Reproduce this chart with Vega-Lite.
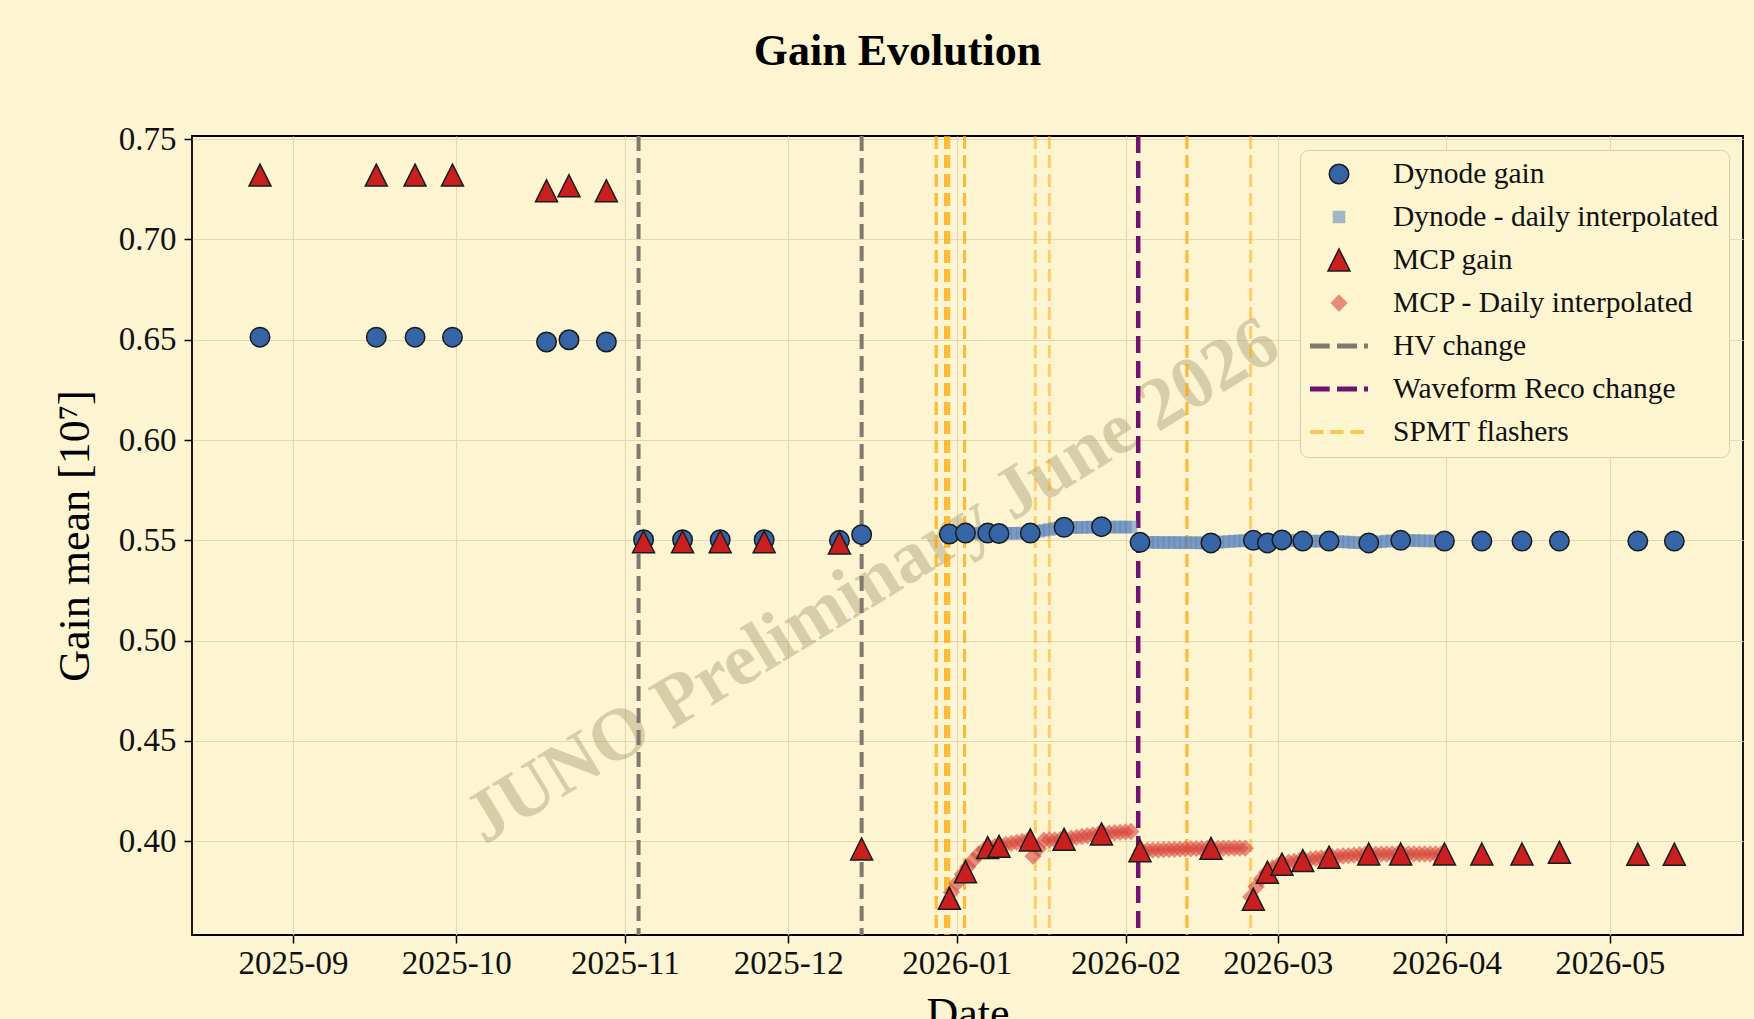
{
  "$schema": "https://vega.github.io/schema/vega-lite/v6.json",
  "width": 1551,
  "height": 799,
  "autosize": {"type": "none"},
  "padding": {"left": 192, "top": 136, "right": 11, "bottom": 84},
  "background": "#fdf5d2",
  "title": {"text": "Gain Evolution", "font": "Liberation Serif", "fontSize": 44, "fontWeight": "bold", "color": "#000", "anchor": "middle", "dx": -70, "offset": 49},
  "config": {
    "view": {"stroke": "#000", "strokeWidth": 1.8, "fill": "#fdf5d2"},
    "font": "Liberation Serif",
    "axis": {"labelFont": "Liberation Serif", "titleFont": "Liberation Serif", "labelFontSize": 33, "titleFontSize": 44, "titleFontWeight": "normal", "labelColor": "#111", "titleColor": "#000", "tickColor": "#000", "tickSize": 8, "tickWidth": 1.5, "domain": false, "grid": true, "gridColor": "#e3d9b3", "gridWidth": 1.2}
  },
  "datasets": {
    "wm": [{"date": "2025-12-16T12:00", "gain": 0.5295, "label": "JUNO Preliminary June 2026"}],
    "events": [
      {"date": "2025-11-03T12:00", "event": "HV change"},
      {"date": "2025-12-14T12:00", "event": "HV change"},
      {"date": "2026-02-03T08:00", "event": "Waveform Reco change"},
      {"date": "2025-12-28T05:00", "event": "SPMT flashers"},
      {"date": "2025-12-28T05:00", "event": "SPMT flashers"},
      {"date": "2025-12-29T22:00", "event": "SPMT flashers"},
      {"date": "2025-12-29T22:00", "event": "SPMT flashers"},
      {"date": "2025-12-30T12:00", "event": "SPMT flashers"},
      {"date": "2025-12-30T12:00", "event": "SPMT flashers"},
      {"date": "2026-01-02T10:00", "event": "SPMT flashers"},
      {"date": "2026-01-02T10:00", "event": "SPMT flashers"},
      {"date": "2026-01-15T10:00", "event": "SPMT flashers"},
      {"date": "2026-01-18T00:00", "event": "SPMT flashers"},
      {"date": "2026-02-12T07:00", "event": "SPMT flashers"},
      {"date": "2026-02-12T07:00", "event": "SPMT flashers"},
      {"date": "2026-02-24T00:00", "event": "SPMT flashers"}
    ],
    "points": [
      {"date": "2025-12-31T00:00", "gain": 0.5531, "series": "Dynode - daily interpolated"},
      {"date": "2026-01-01T00:00", "gain": 0.5532, "series": "Dynode - daily interpolated"},
      {"date": "2026-01-02T00:00", "gain": 0.5533, "series": "Dynode - daily interpolated"},
      {"date": "2026-01-03T00:00", "gain": 0.5534, "series": "Dynode - daily interpolated"},
      {"date": "2026-01-04T00:00", "gain": 0.5535, "series": "Dynode - daily interpolated"},
      {"date": "2026-01-05T00:00", "gain": 0.5536, "series": "Dynode - daily interpolated"},
      {"date": "2026-01-06T00:00", "gain": 0.5536, "series": "Dynode - daily interpolated"},
      {"date": "2026-01-07T00:00", "gain": 0.5535, "series": "Dynode - daily interpolated"},
      {"date": "2026-01-08T00:00", "gain": 0.5534, "series": "Dynode - daily interpolated"},
      {"date": "2026-01-09T00:00", "gain": 0.5534, "series": "Dynode - daily interpolated"},
      {"date": "2026-01-10T00:00", "gain": 0.5535, "series": "Dynode - daily interpolated"},
      {"date": "2026-01-11T00:00", "gain": 0.5535, "series": "Dynode - daily interpolated"},
      {"date": "2026-01-12T00:00", "gain": 0.5535, "series": "Dynode - daily interpolated"},
      {"date": "2026-01-13T00:00", "gain": 0.5536, "series": "Dynode - daily interpolated"},
      {"date": "2026-01-14T00:00", "gain": 0.5536, "series": "Dynode - daily interpolated"},
      {"date": "2026-01-15T00:00", "gain": 0.5541, "series": "Dynode - daily interpolated"},
      {"date": "2026-01-16T00:00", "gain": 0.5545, "series": "Dynode - daily interpolated"},
      {"date": "2026-01-17T00:00", "gain": 0.555, "series": "Dynode - daily interpolated"},
      {"date": "2026-01-18T00:00", "gain": 0.5554, "series": "Dynode - daily interpolated"},
      {"date": "2026-01-19T00:00", "gain": 0.5559, "series": "Dynode - daily interpolated"},
      {"date": "2026-01-20T00:00", "gain": 0.5563, "series": "Dynode - daily interpolated"},
      {"date": "2026-01-21T00:00", "gain": 0.5563, "series": "Dynode - daily interpolated"},
      {"date": "2026-01-22T00:00", "gain": 0.5564, "series": "Dynode - daily interpolated"},
      {"date": "2026-01-23T00:00", "gain": 0.5564, "series": "Dynode - daily interpolated"},
      {"date": "2026-01-24T00:00", "gain": 0.5565, "series": "Dynode - daily interpolated"},
      {"date": "2026-01-25T00:00", "gain": 0.5565, "series": "Dynode - daily interpolated"},
      {"date": "2026-01-26T00:00", "gain": 0.5566, "series": "Dynode - daily interpolated"},
      {"date": "2026-01-27T00:00", "gain": 0.5566, "series": "Dynode - daily interpolated"},
      {"date": "2026-01-28T00:00", "gain": 0.5566, "series": "Dynode - daily interpolated"},
      {"date": "2026-01-29T00:00", "gain": 0.5566, "series": "Dynode - daily interpolated"},
      {"date": "2026-01-30T00:00", "gain": 0.5566, "series": "Dynode - daily interpolated"},
      {"date": "2026-01-31T00:00", "gain": 0.5566, "series": "Dynode - daily interpolated"},
      {"date": "2026-02-01T00:00", "gain": 0.5566, "series": "Dynode - daily interpolated"},
      {"date": "2026-02-02T00:00", "gain": 0.5566, "series": "Dynode - daily interpolated"},
      {"date": "2026-02-04T00:00", "gain": 0.549, "series": "Dynode - daily interpolated"},
      {"date": "2026-02-05T00:00", "gain": 0.549, "series": "Dynode - daily interpolated"},
      {"date": "2026-02-06T00:00", "gain": 0.549, "series": "Dynode - daily interpolated"},
      {"date": "2026-02-07T00:00", "gain": 0.5489, "series": "Dynode - daily interpolated"},
      {"date": "2026-02-08T00:00", "gain": 0.5489, "series": "Dynode - daily interpolated"},
      {"date": "2026-02-09T00:00", "gain": 0.5489, "series": "Dynode - daily interpolated"},
      {"date": "2026-02-10T00:00", "gain": 0.5489, "series": "Dynode - daily interpolated"},
      {"date": "2026-02-11T00:00", "gain": 0.5488, "series": "Dynode - daily interpolated"},
      {"date": "2026-02-12T00:00", "gain": 0.5488, "series": "Dynode - daily interpolated"},
      {"date": "2026-02-13T00:00", "gain": 0.5488, "series": "Dynode - daily interpolated"},
      {"date": "2026-02-14T00:00", "gain": 0.5488, "series": "Dynode - daily interpolated"},
      {"date": "2026-02-15T00:00", "gain": 0.5487, "series": "Dynode - daily interpolated"},
      {"date": "2026-02-16T00:00", "gain": 0.5487, "series": "Dynode - daily interpolated"},
      {"date": "2026-02-17T00:00", "gain": 0.5489, "series": "Dynode - daily interpolated"},
      {"date": "2026-02-18T00:00", "gain": 0.549, "series": "Dynode - daily interpolated"},
      {"date": "2026-02-19T00:00", "gain": 0.5492, "series": "Dynode - daily interpolated"},
      {"date": "2026-02-20T00:00", "gain": 0.5494, "series": "Dynode - daily interpolated"},
      {"date": "2026-02-21T00:00", "gain": 0.5496, "series": "Dynode - daily interpolated"},
      {"date": "2026-02-22T00:00", "gain": 0.5497, "series": "Dynode - daily interpolated"},
      {"date": "2026-02-23T00:00", "gain": 0.5499, "series": "Dynode - daily interpolated"},
      {"date": "2026-02-24T00:00", "gain": 0.55, "series": "Dynode - daily interpolated"},
      {"date": "2026-02-25T00:00", "gain": 0.5495, "series": "Dynode - daily interpolated"},
      {"date": "2026-02-26T00:00", "gain": 0.549, "series": "Dynode - daily interpolated"},
      {"date": "2026-02-27T00:00", "gain": 0.5487, "series": "Dynode - daily interpolated"},
      {"date": "2026-02-28T00:00", "gain": 0.5494, "series": "Dynode - daily interpolated"},
      {"date": "2026-03-01T00:00", "gain": 0.55, "series": "Dynode - daily interpolated"},
      {"date": "2026-03-02T00:00", "gain": 0.5501, "series": "Dynode - daily interpolated"},
      {"date": "2026-03-03T00:00", "gain": 0.5499, "series": "Dynode - daily interpolated"},
      {"date": "2026-03-04T00:00", "gain": 0.5498, "series": "Dynode - daily interpolated"},
      {"date": "2026-03-05T00:00", "gain": 0.5496, "series": "Dynode - daily interpolated"},
      {"date": "2026-03-06T00:00", "gain": 0.5496, "series": "Dynode - daily interpolated"},
      {"date": "2026-03-07T00:00", "gain": 0.5496, "series": "Dynode - daily interpolated"},
      {"date": "2026-03-08T00:00", "gain": 0.5496, "series": "Dynode - daily interpolated"},
      {"date": "2026-03-09T00:00", "gain": 0.5496, "series": "Dynode - daily interpolated"},
      {"date": "2026-03-10T00:00", "gain": 0.5496, "series": "Dynode - daily interpolated"},
      {"date": "2026-03-11T00:00", "gain": 0.5495, "series": "Dynode - daily interpolated"},
      {"date": "2026-03-12T00:00", "gain": 0.5494, "series": "Dynode - daily interpolated"},
      {"date": "2026-03-13T00:00", "gain": 0.5492, "series": "Dynode - daily interpolated"},
      {"date": "2026-03-14T00:00", "gain": 0.5491, "series": "Dynode - daily interpolated"},
      {"date": "2026-03-15T00:00", "gain": 0.5489, "series": "Dynode - daily interpolated"},
      {"date": "2026-03-16T00:00", "gain": 0.5488, "series": "Dynode - daily interpolated"},
      {"date": "2026-03-17T00:00", "gain": 0.5487, "series": "Dynode - daily interpolated"},
      {"date": "2026-03-18T00:00", "gain": 0.5489, "series": "Dynode - daily interpolated"},
      {"date": "2026-03-19T00:00", "gain": 0.5491, "series": "Dynode - daily interpolated"},
      {"date": "2026-03-20T00:00", "gain": 0.5493, "series": "Dynode - daily interpolated"},
      {"date": "2026-03-21T00:00", "gain": 0.5496, "series": "Dynode - daily interpolated"},
      {"date": "2026-03-22T00:00", "gain": 0.5498, "series": "Dynode - daily interpolated"},
      {"date": "2026-03-23T00:00", "gain": 0.55, "series": "Dynode - daily interpolated"},
      {"date": "2026-03-24T00:00", "gain": 0.55, "series": "Dynode - daily interpolated"},
      {"date": "2026-03-25T00:00", "gain": 0.5499, "series": "Dynode - daily interpolated"},
      {"date": "2026-03-26T00:00", "gain": 0.5499, "series": "Dynode - daily interpolated"},
      {"date": "2026-03-27T00:00", "gain": 0.5498, "series": "Dynode - daily interpolated"},
      {"date": "2026-03-28T00:00", "gain": 0.5497, "series": "Dynode - daily interpolated"},
      {"date": "2026-03-29T00:00", "gain": 0.5497, "series": "Dynode - daily interpolated"},
      {"date": "2026-03-30T00:00", "gain": 0.5496, "series": "Dynode - daily interpolated"},
      {"date": "2026-03-31T00:00", "gain": 0.5496, "series": "Dynode - daily interpolated"},
      {"date": "2025-12-31T00:00", "gain": 0.3745, "series": "MCP - Daily interpolated"},
      {"date": "2026-01-01T00:00", "gain": 0.379, "series": "MCP - Daily interpolated"},
      {"date": "2026-01-02T00:00", "gain": 0.3835, "series": "MCP - Daily interpolated"},
      {"date": "2026-01-03T00:00", "gain": 0.3872, "series": "MCP - Daily interpolated"},
      {"date": "2026-01-04T00:00", "gain": 0.3905, "series": "MCP - Daily interpolated"},
      {"date": "2026-01-05T00:00", "gain": 0.3935, "series": "MCP - Daily interpolated"},
      {"date": "2026-01-06T00:00", "gain": 0.3958, "series": "MCP - Daily interpolated"},
      {"date": "2026-01-07T00:00", "gain": 0.3969, "series": "MCP - Daily interpolated"},
      {"date": "2026-01-08T00:00", "gain": 0.3974, "series": "MCP - Daily interpolated"},
      {"date": "2026-01-09T00:00", "gain": 0.3979, "series": "MCP - Daily interpolated"},
      {"date": "2026-01-10T00:00", "gain": 0.3984, "series": "MCP - Daily interpolated"},
      {"date": "2026-01-11T00:00", "gain": 0.3989, "series": "MCP - Daily interpolated"},
      {"date": "2026-01-12T00:00", "gain": 0.3994, "series": "MCP - Daily interpolated"},
      {"date": "2026-01-13T00:00", "gain": 0.3999, "series": "MCP - Daily interpolated"},
      {"date": "2026-01-14T00:00", "gain": 0.4004, "series": "MCP - Daily interpolated"},
      {"date": "2026-01-15T00:00", "gain": 0.3925, "series": "MCP - Daily interpolated"},
      {"date": "2026-01-16T00:00", "gain": 0.3962, "series": "MCP - Daily interpolated"},
      {"date": "2026-01-17T00:00", "gain": 0.4005, "series": "MCP - Daily interpolated"},
      {"date": "2026-01-18T00:00", "gain": 0.4006, "series": "MCP - Daily interpolated"},
      {"date": "2026-01-19T00:00", "gain": 0.4006, "series": "MCP - Daily interpolated"},
      {"date": "2026-01-20T00:00", "gain": 0.4007, "series": "MCP - Daily interpolated"},
      {"date": "2026-01-21T00:00", "gain": 0.4011, "series": "MCP - Daily interpolated"},
      {"date": "2026-01-22T00:00", "gain": 0.4015, "series": "MCP - Daily interpolated"},
      {"date": "2026-01-23T00:00", "gain": 0.4019, "series": "MCP - Daily interpolated"},
      {"date": "2026-01-24T00:00", "gain": 0.4023, "series": "MCP - Daily interpolated"},
      {"date": "2026-01-25T00:00", "gain": 0.4027, "series": "MCP - Daily interpolated"},
      {"date": "2026-01-26T00:00", "gain": 0.4031, "series": "MCP - Daily interpolated"},
      {"date": "2026-01-27T00:00", "gain": 0.4035, "series": "MCP - Daily interpolated"},
      {"date": "2026-01-28T00:00", "gain": 0.4038, "series": "MCP - Daily interpolated"},
      {"date": "2026-01-29T00:00", "gain": 0.404, "series": "MCP - Daily interpolated"},
      {"date": "2026-01-30T00:00", "gain": 0.4042, "series": "MCP - Daily interpolated"},
      {"date": "2026-01-31T00:00", "gain": 0.4044, "series": "MCP - Daily interpolated"},
      {"date": "2026-02-01T00:00", "gain": 0.4046, "series": "MCP - Daily interpolated"},
      {"date": "2026-02-02T00:00", "gain": 0.4048, "series": "MCP - Daily interpolated"},
      {"date": "2026-02-04T00:00", "gain": 0.3953, "series": "MCP - Daily interpolated"},
      {"date": "2026-02-05T00:00", "gain": 0.3954, "series": "MCP - Daily interpolated"},
      {"date": "2026-02-06T00:00", "gain": 0.3955, "series": "MCP - Daily interpolated"},
      {"date": "2026-02-07T00:00", "gain": 0.3956, "series": "MCP - Daily interpolated"},
      {"date": "2026-02-08T00:00", "gain": 0.3957, "series": "MCP - Daily interpolated"},
      {"date": "2026-02-09T00:00", "gain": 0.3958, "series": "MCP - Daily interpolated"},
      {"date": "2026-02-10T00:00", "gain": 0.3959, "series": "MCP - Daily interpolated"},
      {"date": "2026-02-11T00:00", "gain": 0.396, "series": "MCP - Daily interpolated"},
      {"date": "2026-02-12T00:00", "gain": 0.3961, "series": "MCP - Daily interpolated"},
      {"date": "2026-02-13T00:00", "gain": 0.3962, "series": "MCP - Daily interpolated"},
      {"date": "2026-02-14T00:00", "gain": 0.3963, "series": "MCP - Daily interpolated"},
      {"date": "2026-02-15T00:00", "gain": 0.3963, "series": "MCP - Daily interpolated"},
      {"date": "2026-02-16T00:00", "gain": 0.3964, "series": "MCP - Daily interpolated"},
      {"date": "2026-02-17T00:00", "gain": 0.3964, "series": "MCP - Daily interpolated"},
      {"date": "2026-02-18T00:00", "gain": 0.3964, "series": "MCP - Daily interpolated"},
      {"date": "2026-02-19T00:00", "gain": 0.3965, "series": "MCP - Daily interpolated"},
      {"date": "2026-02-20T00:00", "gain": 0.3965, "series": "MCP - Daily interpolated"},
      {"date": "2026-02-21T00:00", "gain": 0.3965, "series": "MCP - Daily interpolated"},
      {"date": "2026-02-22T00:00", "gain": 0.3965, "series": "MCP - Daily interpolated"},
      {"date": "2026-02-23T00:00", "gain": 0.3965, "series": "MCP - Daily interpolated"},
      {"date": "2026-02-24T00:00", "gain": 0.3722, "series": "MCP - Daily interpolated"},
      {"date": "2026-02-25T00:00", "gain": 0.3772, "series": "MCP - Daily interpolated"},
      {"date": "2026-02-26T00:00", "gain": 0.3812, "series": "MCP - Daily interpolated"},
      {"date": "2026-02-27T00:00", "gain": 0.3845, "series": "MCP - Daily interpolated"},
      {"date": "2026-02-28T00:00", "gain": 0.3866, "series": "MCP - Daily interpolated"},
      {"date": "2026-03-01T00:00", "gain": 0.3879, "series": "MCP - Daily interpolated"},
      {"date": "2026-03-02T00:00", "gain": 0.3889, "series": "MCP - Daily interpolated"},
      {"date": "2026-03-03T00:00", "gain": 0.3895, "series": "MCP - Daily interpolated"},
      {"date": "2026-03-04T00:00", "gain": 0.3899, "series": "MCP - Daily interpolated"},
      {"date": "2026-03-05T00:00", "gain": 0.3903, "series": "MCP - Daily interpolated"},
      {"date": "2026-03-06T00:00", "gain": 0.3907, "series": "MCP - Daily interpolated"},
      {"date": "2026-03-07T00:00", "gain": 0.391, "series": "MCP - Daily interpolated"},
      {"date": "2026-03-08T00:00", "gain": 0.3914, "series": "MCP - Daily interpolated"},
      {"date": "2026-03-09T00:00", "gain": 0.3917, "series": "MCP - Daily interpolated"},
      {"date": "2026-03-10T00:00", "gain": 0.392, "series": "MCP - Daily interpolated"},
      {"date": "2026-03-11T00:00", "gain": 0.3922, "series": "MCP - Daily interpolated"},
      {"date": "2026-03-12T00:00", "gain": 0.3924, "series": "MCP - Daily interpolated"},
      {"date": "2026-03-13T00:00", "gain": 0.3926, "series": "MCP - Daily interpolated"},
      {"date": "2026-03-14T00:00", "gain": 0.3928, "series": "MCP - Daily interpolated"},
      {"date": "2026-03-15T00:00", "gain": 0.393, "series": "MCP - Daily interpolated"},
      {"date": "2026-03-16T00:00", "gain": 0.3932, "series": "MCP - Daily interpolated"},
      {"date": "2026-03-17T00:00", "gain": 0.3934, "series": "MCP - Daily interpolated"},
      {"date": "2026-03-18T00:00", "gain": 0.3935, "series": "MCP - Daily interpolated"},
      {"date": "2026-03-19T00:00", "gain": 0.3935, "series": "MCP - Daily interpolated"},
      {"date": "2026-03-20T00:00", "gain": 0.3936, "series": "MCP - Daily interpolated"},
      {"date": "2026-03-21T00:00", "gain": 0.3936, "series": "MCP - Daily interpolated"},
      {"date": "2026-03-22T00:00", "gain": 0.3936, "series": "MCP - Daily interpolated"},
      {"date": "2026-03-23T00:00", "gain": 0.3936, "series": "MCP - Daily interpolated"},
      {"date": "2026-03-24T00:00", "gain": 0.3936, "series": "MCP - Daily interpolated"},
      {"date": "2026-03-25T00:00", "gain": 0.3936, "series": "MCP - Daily interpolated"},
      {"date": "2026-03-26T00:00", "gain": 0.3936, "series": "MCP - Daily interpolated"},
      {"date": "2026-03-27T00:00", "gain": 0.3936, "series": "MCP - Daily interpolated"},
      {"date": "2026-03-28T00:00", "gain": 0.3936, "series": "MCP - Daily interpolated"},
      {"date": "2026-03-29T00:00", "gain": 0.3936, "series": "MCP - Daily interpolated"},
      {"date": "2026-03-30T00:00", "gain": 0.3936, "series": "MCP - Daily interpolated"},
      {"date": "2026-03-31T00:00", "gain": 0.3936, "series": "MCP - Daily interpolated"},
      {"date": "2025-08-25T22:00", "gain": 0.6513, "series": "Dynode gain"},
      {"date": "2025-09-16T07:00", "gain": 0.6513, "series": "Dynode gain"},
      {"date": "2025-09-23T10:00", "gain": 0.6513, "series": "Dynode gain"},
      {"date": "2025-09-30T07:00", "gain": 0.6513, "series": "Dynode gain"},
      {"date": "2025-10-17T14:00", "gain": 0.6489, "series": "Dynode gain"},
      {"date": "2025-10-21T17:00", "gain": 0.65, "series": "Dynode gain"},
      {"date": "2025-10-28T14:00", "gain": 0.6489, "series": "Dynode gain"},
      {"date": "2025-11-04T10:00", "gain": 0.5503, "series": "Dynode gain"},
      {"date": "2025-11-11T14:00", "gain": 0.5503, "series": "Dynode gain"},
      {"date": "2025-11-18T12:00", "gain": 0.5503, "series": "Dynode gain"},
      {"date": "2025-11-26T14:00", "gain": 0.5503, "series": "Dynode gain"},
      {"date": "2025-12-10T10:00", "gain": 0.55, "series": "Dynode gain"},
      {"date": "2025-12-14T12:00", "gain": 0.5528, "series": "Dynode gain"},
      {"date": "2025-12-30T15:00", "gain": 0.5531, "series": "Dynode gain"},
      {"date": "2026-01-02T14:00", "gain": 0.5536, "series": "Dynode gain"},
      {"date": "2026-01-06T16:00", "gain": 0.5536, "series": "Dynode gain"},
      {"date": "2026-01-08T18:00", "gain": 0.5534, "series": "Dynode gain"},
      {"date": "2026-01-14T12:00", "gain": 0.5536, "series": "Dynode gain"},
      {"date": "2026-01-20T17:00", "gain": 0.5565, "series": "Dynode gain"},
      {"date": "2026-01-27T14:00", "gain": 0.5568, "series": "Dynode gain"},
      {"date": "2026-02-03T16:00", "gain": 0.549, "series": "Dynode gain"},
      {"date": "2026-02-16T17:00", "gain": 0.5487, "series": "Dynode gain"},
      {"date": "2026-02-24T12:00", "gain": 0.55, "series": "Dynode gain"},
      {"date": "2026-02-27T02:00", "gain": 0.5487, "series": "Dynode gain"},
      {"date": "2026-03-01T18:00", "gain": 0.5502, "series": "Dynode gain"},
      {"date": "2026-03-05T14:00", "gain": 0.5496, "series": "Dynode gain"},
      {"date": "2026-03-10T10:00", "gain": 0.5496, "series": "Dynode gain"},
      {"date": "2026-03-17T17:00", "gain": 0.5487, "series": "Dynode gain"},
      {"date": "2026-03-23T14:00", "gain": 0.55, "series": "Dynode gain"},
      {"date": "2026-03-31T15:00", "gain": 0.5496, "series": "Dynode gain"},
      {"date": "2026-04-07T12:00", "gain": 0.5496, "series": "Dynode gain"},
      {"date": "2026-04-14T21:00", "gain": 0.5496, "series": "Dynode gain"},
      {"date": "2026-04-21T18:00", "gain": 0.5496, "series": "Dynode gain"},
      {"date": "2026-05-06T04:00", "gain": 0.5496, "series": "Dynode gain"},
      {"date": "2026-05-12T21:00", "gain": 0.5496, "series": "Dynode gain"},
      {"date": "2025-08-25T22:00", "gain": 0.7321, "series": "MCP gain"},
      {"date": "2025-09-16T07:00", "gain": 0.7321, "series": "MCP gain"},
      {"date": "2025-09-23T10:00", "gain": 0.7321, "series": "MCP gain"},
      {"date": "2025-09-30T07:00", "gain": 0.7321, "series": "MCP gain"},
      {"date": "2025-10-17T14:00", "gain": 0.7243, "series": "MCP gain"},
      {"date": "2025-10-21T17:00", "gain": 0.7268, "series": "MCP gain"},
      {"date": "2025-10-28T14:00", "gain": 0.7243, "series": "MCP gain"},
      {"date": "2025-11-04T10:00", "gain": 0.5493, "series": "MCP gain"},
      {"date": "2025-11-11T14:00", "gain": 0.5493, "series": "MCP gain"},
      {"date": "2025-11-18T12:00", "gain": 0.5493, "series": "MCP gain"},
      {"date": "2025-11-26T14:00", "gain": 0.5493, "series": "MCP gain"},
      {"date": "2025-12-10T10:00", "gain": 0.5487, "series": "MCP gain"},
      {"date": "2025-12-14T12:00", "gain": 0.3961, "series": "MCP gain"},
      {"date": "2025-12-30T15:00", "gain": 0.3715, "series": "MCP gain"},
      {"date": "2026-01-02T14:00", "gain": 0.3848, "series": "MCP gain"},
      {"date": "2026-01-06T16:00", "gain": 0.3968, "series": "MCP gain"},
      {"date": "2026-01-08T18:00", "gain": 0.3974, "series": "MCP gain"},
      {"date": "2026-01-14T12:00", "gain": 0.4006, "series": "MCP gain"},
      {"date": "2026-01-20T17:00", "gain": 0.4009, "series": "MCP gain"},
      {"date": "2026-01-27T14:00", "gain": 0.4036, "series": "MCP gain"},
      {"date": "2026-02-03T16:00", "gain": 0.3952, "series": "MCP gain"},
      {"date": "2026-02-16T17:00", "gain": 0.3964, "series": "MCP gain"},
      {"date": "2026-02-24T12:00", "gain": 0.371, "series": "MCP gain"},
      {"date": "2026-02-27T02:00", "gain": 0.3845, "series": "MCP gain"},
      {"date": "2026-03-01T18:00", "gain": 0.3885, "series": "MCP gain"},
      {"date": "2026-03-05T14:00", "gain": 0.3903, "series": "MCP gain"},
      {"date": "2026-03-10T10:00", "gain": 0.392, "series": "MCP gain"},
      {"date": "2026-03-17T17:00", "gain": 0.3936, "series": "MCP gain"},
      {"date": "2026-03-23T14:00", "gain": 0.3936, "series": "MCP gain"},
      {"date": "2026-03-31T15:00", "gain": 0.3936, "series": "MCP gain"},
      {"date": "2026-04-07T12:00", "gain": 0.3936, "series": "MCP gain"},
      {"date": "2026-04-14T21:00", "gain": 0.3936, "series": "MCP gain"},
      {"date": "2026-04-21T18:00", "gain": 0.3944, "series": "MCP gain"},
      {"date": "2026-05-06T04:00", "gain": 0.3935, "series": "MCP gain"},
      {"date": "2026-05-12T21:00", "gain": 0.3935, "series": "MCP gain"}
    ]
  },
  "layer": [
    {
      "data": {"name": "wm"},
      "mark": {"type": "text", "font": "Liberation Serif", "fontSize": 74, "fontWeight": "bold", "fill": "#8f8560", "opacity": 0.35, "angle": 328.5, "align": "center", "baseline": "middle"},
      "encoding": {
        "x": {"field": "date", "type": "temporal", "title": "Date",
          "scale": {"domain": [{"year": 2025, "month": 8, "date": 13, "hours": 10}, {"year": 2026, "month": 5, "date": 25, "hours": 12}]},
          "axis": {"format": "%Y-%m", "tickCount": {"interval": "month", "step": 1}, "labelPadding": 4, "titlePadding": 12, "labelFlush": false, "labelOverlap": false}},
        "y": {"field": "gain", "type": "quantitative", "title": "Gain mean [10⁷]",
          "scale": {"domain": [0.3532, 0.7516], "nice": false, "zero": false},
          "axis": {"values": [0.4, 0.45, 0.5, 0.55, 0.6, 0.65, 0.7, 0.75], "format": ".2f", "labelPadding": 8, "titlePadding": 21}},
        "text": {"field": "label"}
      }
    },
    {
      "data": {"name": "events"},
      "transform": [{"filter": "datum.event === 'HV change'"}],
      "mark": {"type": "rule", "stroke": "#7f7a6d", "strokeWidth": 4, "strokeDash": [15, 7]},
      "encoding": {
        "x": {"field": "date", "type": "temporal", "title": "Date",
          "scale": {"domain": [{"year": 2025, "month": 8, "date": 13, "hours": 10}, {"year": 2026, "month": 5, "date": 25, "hours": 12}]},
          "axis": {"format": "%Y-%m", "tickCount": {"interval": "month", "step": 1}, "labelPadding": 4, "titlePadding": 12, "labelFlush": false, "labelOverlap": false}}
      }
    },
    {
      "data": {"name": "events"},
      "transform": [{"filter": "datum.event === 'Waveform Reco change'"}],
      "mark": {"type": "rule", "stroke": "#6e1470", "strokeWidth": 4.5, "strokeDash": [17, 8]},
      "encoding": {
        "x": {"field": "date", "type": "temporal", "title": "Date",
          "scale": {"domain": [{"year": 2025, "month": 8, "date": 13, "hours": 10}, {"year": 2026, "month": 5, "date": 25, "hours": 12}]},
          "axis": {"format": "%Y-%m", "tickCount": {"interval": "month", "step": 1}, "labelPadding": 4, "titlePadding": 12, "labelFlush": false, "labelOverlap": false}}
      }
    },
    {
      "data": {"name": "events"},
      "transform": [{"filter": "datum.event === 'SPMT flashers'"}],
      "mark": {"type": "rule", "stroke": "#ffa500", "strokeOpacity": 0.5, "strokeWidth": 3, "strokeDash": [13, 6]},
      "encoding": {
        "x": {"field": "date", "type": "temporal", "title": "Date",
          "scale": {"domain": [{"year": 2025, "month": 8, "date": 13, "hours": 10}, {"year": 2026, "month": 5, "date": 25, "hours": 12}]},
          "axis": {"format": "%Y-%m", "tickCount": {"interval": "month", "step": 1}, "labelPadding": 4, "titlePadding": 12, "labelFlush": false, "labelOverlap": false}}
      }
    },
    {
      "data": {"name": "points"},
      "mark": {"type": "point", "filled": true, "stroke": "#1b1b1b"},
      "encoding": {
        "x": {"field": "date", "type": "temporal", "title": "Date",
          "scale": {"domain": [{"year": 2025, "month": 8, "date": 13, "hours": 10}, {"year": 2026, "month": 5, "date": 25, "hours": 12}]},
          "axis": {"format": "%Y-%m", "tickCount": {"interval": "month", "step": 1}, "labelPadding": 4, "titlePadding": 12, "labelFlush": false, "labelOverlap": false}},
        "y": {"field": "gain", "type": "quantitative", "title": "Gain mean [10⁷]",
          "scale": {"domain": [0.3532, 0.7516], "nice": false, "zero": false},
          "axis": {"values": [0.4, 0.45, 0.5, 0.55, 0.6, 0.65, 0.7, 0.75], "format": ".2f", "labelPadding": 8, "titlePadding": 21}},
        "color": {"field": "series", "type": "nominal",
          "scale": {"domain": ["Dynode gain", "Dynode - daily interpolated", "MCP gain", "MCP - Daily interpolated", "HV change", "Waveform Reco change", "SPMT flashers"],
                    "range": ["#3565a6", "#5a84bd", "#c91f1f", "#d9463c", "#7f7a6d", "#6e1470", "#ffa500"]},
          "legend": {"title": null, "orient": "top-right", "offset": 14, "padding": 10, "labelFont": "Liberation Serif", "labelFontSize": 29.5, "labelColor": "#111", "labelOffset": 25, "labelLimit": 600, "clipHeight": 28, "rowPadding": 13, "fillColor": "#fdf4d0", "strokeColor": "#d8ceab", "cornerRadius": 8,
            "encode": {"symbols": {"update": {
              "stroke": {"signal": "datum.value === 'Dynode gain' || datum.value === 'MCP gain' ? '#1b1b1b' : 'transparent'"},
              "strokeWidth": {"signal": "datum.value === 'Dynode gain' || datum.value === 'MCP gain' ? 1.5 : 0"}
            }}}}},
        "shape": {"field": "series", "type": "nominal",
          "scale": {"domain": ["Dynode gain", "Dynode - daily interpolated", "MCP gain", "MCP - Daily interpolated", "HV change", "Waveform Reco change", "SPMT flashers"],
                    "range": ["circle", "square", "M0,-1L1,1L-1,1Z", "diamond",
                              "M-1,-0.085H-0.32V0.085H-1Z M-0.07,-0.085H0.62V0.085H-0.07Z M0.86,-0.085H1V0.085H0.86Z",
                              "M-1,-0.09H-0.32V0.09H-1Z M-0.07,-0.09H0.62V0.09H-0.07Z M0.86,-0.09H1V0.09H0.86Z",
                              "M-1,-0.065H-0.54V0.065H-1Z M-0.3,-0.065H0.16V0.065H-0.3Z M0.4,-0.065H0.86V0.065H0.4Z"]}},
        "size": {"field": "series", "type": "nominal",
          "scale": {"type": "ordinal", "domain": ["Dynode gain", "Dynode - daily interpolated", "MCP gain", "MCP - Daily interpolated", "HV change", "Waveform Reco change", "SPMT flashers"],
                    "range": [380, 160, 484, 300, 3364, 3364, 3364]}},
        "opacity": {"field": "series", "type": "nominal",
          "scale": {"type": "ordinal", "domain": ["Dynode gain", "Dynode - daily interpolated", "MCP gain", "MCP - Daily interpolated", "HV change", "Waveform Reco change", "SPMT flashers"],
                    "range": [1, 0.55, 1, 0.6, 1, 1, 0.6]}},
        "strokeWidth": {"field": "series", "type": "nominal",
          "scale": {"type": "ordinal", "domain": ["Dynode gain", "Dynode - daily interpolated", "MCP gain", "MCP - Daily interpolated", "HV change", "Waveform Reco change", "SPMT flashers"],
                    "range": [1.5, 0, 1.5, 0, 0, 0, 0]}}
      }
    }
  ]
}
